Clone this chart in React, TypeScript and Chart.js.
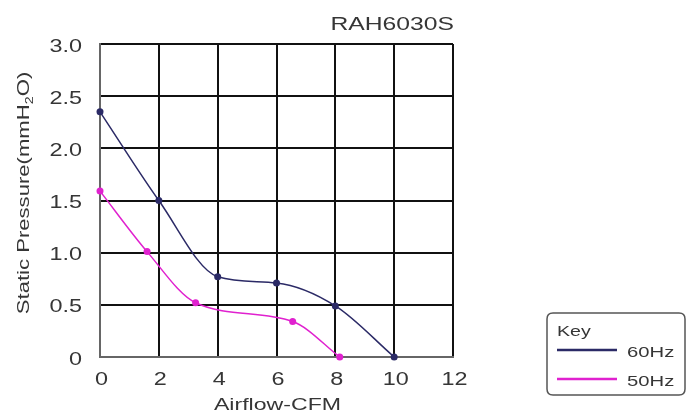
import React, { useEffect, useRef } from "react";
import { Chart, registerables } from "chart.js";

Chart.register(...registerables);

const chartTitle = "RAH6030S";
const xTitle = "Airflow-CFM";
const yTitleParts = ["Static Pressure(mmH", "2", "O)"];
const legendTitle = "Key";

const xTickValues = [0, 2, 4, 6, 8, 10, 12];
const yTickValues = [0, 0.5, 1, 1.5, 2, 2.5, 3];
const yTickLabels = ["0", "0.5", "1.0", "1.5", "2.0", "2.5", "3.0"];

const airflow60 = [0, 2, 4, 6, 8, 10];
const pressure60 = [2.35, 1.5, 0.77, 0.71, 0.49, 0];
const airflow50 = [0, 1.6, 3.25, 6.55, 8.15];
const pressure50 = [1.59, 1.01, 0.52, 0.34, 0];

const seriesNames = ["60Hz", "50Hz"];
const seriesColors = ["#2b2a66", "#e021cf"];

const FONT = "'Liberation Sans', Arial, sans-serif";
const TEXT = "#363636";
const STRETCH = 1.3;

function drawStretched(
  ctx: CanvasRenderingContext2D,
  text: string,
  x: number,
  y: number,
  size: number,
  align: CanvasTextAlign,
  stretch: number
) {
  ctx.save();
  ctx.font = `${size}px ${FONT}`;
  ctx.textAlign = align;
  ctx.textBaseline = "alphabetic";
  ctx.translate(x, y);
  ctx.scale(stretch, 1);
  ctx.fillText(text, 0, 0);
  ctx.restore();
}

const overlay = {
  id: "overlay",
  afterDraw(chart: any) {
    const ctx = chart.ctx as CanvasRenderingContext2D;
    const area = chart.chartArea;
    const xs = chart.scales.x;
    const ys = chart.scales.y;
    ctx.save();
    ctx.fillStyle = TEXT;

    xTickValues.forEach((v) => {
      drawStretched(ctx, String(v), xs.getPixelForValue(v) + 1.5, 385, 18, "center", STRETCH);
    });
    yTickValues.forEach((v, i) => {
      drawStretched(ctx, yTickLabels[i], 82, ys.getPixelForValue(v) + 7.5, 18, "right", STRETCH);
    });

    drawStretched(ctx, chartTitle, area.right + 1, 30, 19, "right", STRETCH);
    drawStretched(ctx, xTitle, (area.left + area.right) / 2 + 1, 410, 17, "center", 1.36);

    ctx.save();
    ctx.translate(29, 193);
    ctx.rotate(-Math.PI / 2);
    ctx.scale(STRETCH, 1);
    ctx.textAlign = "left";
    ctx.textBaseline = "alphabetic";
    ctx.font = `17px ${FONT}`;
    const w0 = ctx.measureText(yTitleParts[0]).width;
    ctx.font = `11px ${FONT}`;
    const w1 = ctx.measureText(yTitleParts[1]).width;
    ctx.font = `17px ${FONT}`;
    const w2 = ctx.measureText(yTitleParts[2]).width;
    let x = -(w0 + w1 + w2) / 2;
    ctx.fillText(yTitleParts[0], x, 0);
    x += w0;
    ctx.font = `11px ${FONT}`;
    ctx.fillText(yTitleParts[1], x, 4);
    x += w1;
    ctx.font = `17px ${FONT}`;
    ctx.fillText(yTitleParts[2], x, 0);
    ctx.restore();

    const bx = 547, by = 313, bw = 138, bh = 82, r = 6;
    ctx.strokeStyle = "#555";
    ctx.lineWidth = 1.5;
    ctx.beginPath();
    ctx.moveTo(bx + r, by);
    ctx.lineTo(bx + bw - r, by);
    ctx.quadraticCurveTo(bx + bw, by, bx + bw, by + r);
    ctx.lineTo(bx + bw, by + bh - r);
    ctx.quadraticCurveTo(bx + bw, by + bh, bx + bw - r, by + bh);
    ctx.lineTo(bx + r, by + bh);
    ctx.quadraticCurveTo(bx, by + bh, bx, by + bh - r);
    ctx.lineTo(bx, by + r);
    ctx.quadraticCurveTo(bx, by, bx + r, by);
    ctx.stroke();
    ctx.fillStyle = TEXT;
    drawStretched(ctx, legendTitle, 557, 336, 14, "left", 1.4);
    const rows = [350, 379];
    rows.forEach((yy, i) => {
      ctx.strokeStyle = seriesColors[i];
      ctx.lineWidth = 2.5;
      ctx.beginPath();
      ctx.moveTo(557, yy);
      ctx.lineTo(617, yy);
      ctx.stroke();
      ctx.fillStyle = TEXT;
      drawStretched(ctx, seriesNames[i], 627, yy + 7, 15, "left", 1.35);
    });
    ctx.restore();
  },
};

export default function App() {
  const ref = useRef<HTMLCanvasElement>(null);
  useEffect(() => {
    document.body.style.margin = "0";
    const mk = (xs: number[], ys: number[]) => xs.map((x, i) => ({ x, y: ys[i] }));
    const chart = new Chart(ref.current!, {
      type: "line",
      data: {
        datasets: [
          {
            label: seriesNames[0],
            data: mk(airflow60, pressure60),
            borderColor: seriesColors[0],
            backgroundColor: seriesColors[0],
            borderWidth: 1.5,
            pointRadius: 3.5,
            pointBorderWidth: 0,
            cubicInterpolationMode: "monotone",
            clip: false as any,
          },
          {
            label: seriesNames[1],
            data: mk(airflow50, pressure50),
            borderColor: seriesColors[1],
            backgroundColor: seriesColors[1],
            borderWidth: 1.5,
            pointRadius: 3.5,
            pointBorderWidth: 0,
            cubicInterpolationMode: "monotone",
            clip: false as any,
          },
        ],
      },
      options: {
        animation: false,
        responsive: false,
        layout: { padding: { top: 44, right: 235, bottom: 0, left: 0 } },
        plugins: { legend: { display: false }, tooltip: { enabled: false }, title: { display: false } },
        scales: {
          x: {
            type: "linear",
            min: 0,
            max: 12,
            ticks: { stepSize: 2, display: false },
            grid: { color: "#111", lineWidth: 2, drawTicks: false },
            border: { color: "#666", width: 2 },
            afterFit: (s: any) => { s.height = 61; },
          },
          y: {
            type: "linear",
            min: 0,
            max: 3,
            ticks: { stepSize: 0.5, display: false },
            grid: { color: "#111", lineWidth: 2, drawTicks: false },
            border: { color: "#666", width: 2 },
            afterFit: (s: any) => { s.width = 100; },
          },
        },
      },
      plugins: [overlay],
    });
    return () => chart.destroy();
  }, []);
  return <canvas ref={ref} width={688} height={418} style={{ display: "block" }} />;
}
